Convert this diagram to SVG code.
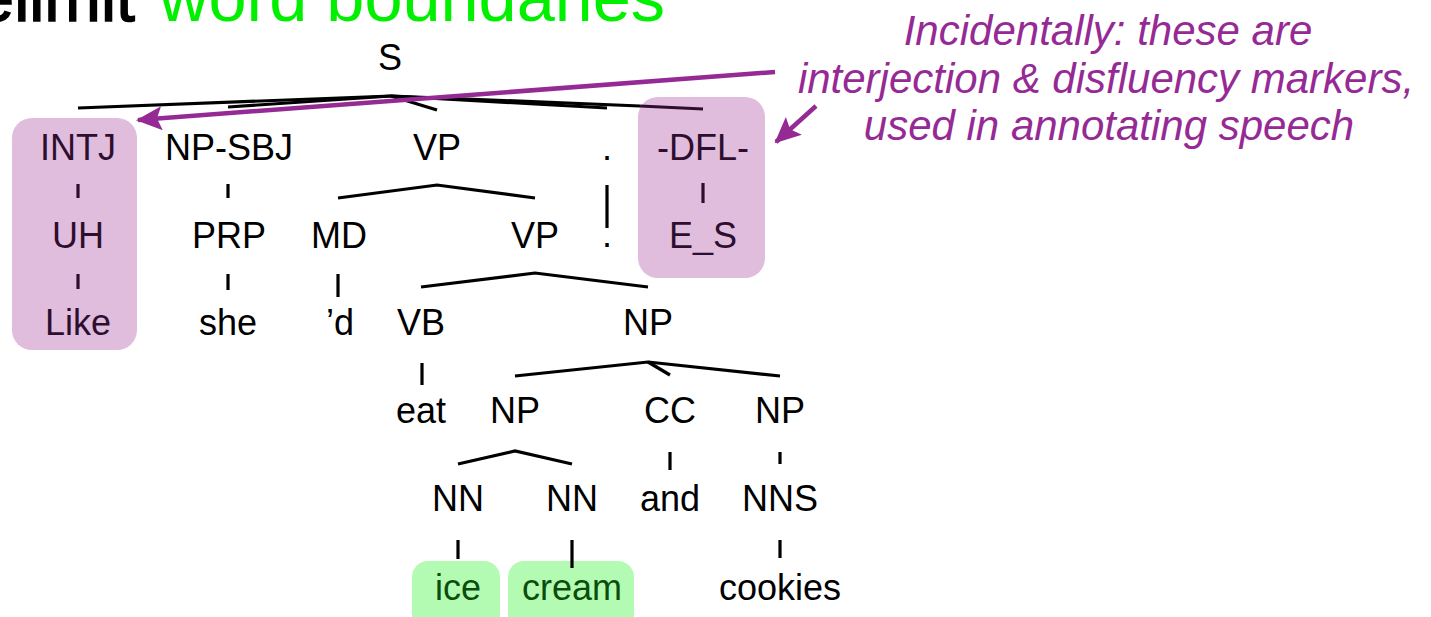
<svg xmlns="http://www.w3.org/2000/svg" width="1431" height="617" viewBox="0 0 1431 617">
  <style>
    .lbl { font-family: "Liberation Sans", Arial, sans-serif; font-size: 36px; fill: #000; text-anchor: middle; }
    .in-pink { fill: #2e0e2e; }
    .in-green { fill: #0b4d0b; }
    .edge { stroke: #000; stroke-width: 3.2; fill: none; stroke-linecap: butt; }
    .edge-pink { stroke: #2e0e2e; }
    .note { font-family: "Liberation Sans", Arial, sans-serif; font-size: 42px; font-style: italic; fill: #952a95; text-anchor: middle; }
    .pointer { stroke: #952a95; stroke-width: 4.5; fill: none; }
    .pink-box { fill: #e0bcdd; }
    .green-box { fill: #b3fbb3; }
  </style>
  <defs>
    <marker id="head" viewBox="0 0 26 24" refX="24" refY="12" markerWidth="26" markerHeight="24" markerUnits="userSpaceOnUse" orient="auto">
      <path d="M0,0 L26,12 L0,24 L5,12 Z" fill="#952a95"/>
    </marker>
  </defs>

  <rect width="1431" height="617" fill="#fff"/>

  <!-- heading, clipped at the top edge -->
  <g id="heading" font-family="Liberation Sans, Arial, sans-serif" font-size="68">
    <text x="135" y="21" text-anchor="end" fill="#000" stroke="#000" stroke-width="1.5">elimit</text>
    <text x="159" y="21" fill="#00f000" textLength="506" lengthAdjust="spacingAndGlyphs">word boundaries</text>
  </g>

  <!-- highlight boxes -->
  <g id="highlights">
    <rect class="pink-box" x="12" y="118" width="125" height="232" rx="20"/>
    <rect class="pink-box" x="638" y="97" width="127" height="181" rx="20"/>
    <rect class="green-box" x="412" y="561" width="88" height="70" rx="16"/>
    <rect class="green-box" x="508" y="561" width="126" height="70" rx="16"/>
  </g>

  <!-- tree edges -->
  <g id="connectors">
    <!-- S -->
    <path class="edge" d="M391,96 L78,108"/>
    <path class="edge" d="M391,96 L228,107"/>
    <path class="edge" d="M391,96 L437,110"/>
    <path class="edge" d="M391,96 L607,108"/>
    <path class="edge" d="M391,96 L640,106"/>
    <path class="edge edge-pink" d="M640,106 L703,109"/>
    <!-- VP -->
    <path class="edge" d="M338,198 L437,185 L535,198"/>
    <!-- VP (lower) -->
    <path class="edge" d="M421,287 L535,273 L648,287"/>
    <!-- NP coordination -->
    <path class="edge" d="M515,376 L648,362 L780,376"/>
    <path class="edge" d="M648,362 L670,375"/>
    <!-- NP compound -->
    <path class="edge" d="M458,464 L515,451 L572,464"/>
    <!-- unary edges -->
    <path class="edge edge-pink" d="M78,184 V198"/>
    <path class="edge edge-pink" d="M78,274 V289"/>
    <path class="edge" d="M228,184 V198"/>
    <path class="edge" d="M228,274 V290"/>
    <path class="edge" d="M338,274 V297"/>
    <path class="edge" d="M607,185 V228"/>
    <path class="edge edge-pink" d="M703,183 V203"/>
    <path class="edge" d="M422,363 V385"/>
    <path class="edge" d="M670,452 V470"/>
    <path class="edge" d="M780,452 V464"/>
    <path class="edge" d="M458,540 V559"/>
    <path class="edge" d="M572,540 V568"/>
    <path class="edge" d="M780,540 V558"/>
  </g>

  <!-- tree nodes -->
  <g id="n-S"><text class="lbl" x="390" y="70">S</text></g>
  <g id="n-INTJ"><text class="lbl in-pink" x="78" y="160">INTJ</text></g>
  <g id="n-UH"><text class="lbl in-pink" x="78" y="248">UH</text></g>
  <g id="n-Like"><text class="lbl in-pink" x="78" y="335">Like</text></g>
  <g id="n-NP-SBJ"><text class="lbl" x="229" y="160">NP-SBJ</text></g>
  <g id="n-PRP"><text class="lbl" x="229" y="248">PRP</text></g>
  <g id="n-she"><text class="lbl" x="228" y="335">she</text></g>
  <g id="n-VP"><text class="lbl" x="437" y="160">VP</text></g>
  <g id="n-MD"><text class="lbl" x="339" y="248">MD</text></g>
  <g id="n-d"><text class="lbl" x="340" y="335">’d</text></g>
  <g id="n-VP2"><text class="lbl" x="535" y="248">VP</text></g>
  <g id="n-VB"><text class="lbl" x="421" y="335">VB</text></g>
  <g id="n-eat"><text class="lbl" x="421" y="423">eat</text></g>
  <g id="n-NP"><text class="lbl" x="648" y="335">NP</text></g>
  <g id="n-NP-a"><text class="lbl" x="515" y="423">NP</text></g>
  <g id="n-CC"><text class="lbl" x="670" y="423">CC</text></g>
  <g id="n-NP-b"><text class="lbl" x="780" y="423">NP</text></g>
  <g id="n-NN1"><text class="lbl" x="458" y="511">NN</text></g>
  <g id="n-NN2"><text class="lbl" x="572" y="511">NN</text></g>
  <g id="n-and"><text class="lbl" x="670" y="511">and</text></g>
  <g id="n-NNS"><text class="lbl" x="780" y="511">NNS</text></g>
  <g id="n-ice"><text class="lbl in-green" x="458" y="600">ice</text></g>
  <g id="n-cream"><text class="lbl in-green" x="572" y="600">cream</text></g>
  <g id="n-cookies"><text class="lbl" x="780" y="600">cookies</text></g>
  <g id="n-punct"><text class="lbl" x="607" y="160">.</text></g>
  <g id="n-punct-tok"><text class="lbl" x="607" y="247">.</text></g>
  <g id="n-DFL"><text class="lbl in-pink" x="703" y="160">-DFL-</text></g>
  <g id="n-E_S"><text class="lbl in-pink" x="703" y="248">E_S</text></g>

  <!-- side note with pointers -->
  <g id="note">
    <text class="note" x="1108" y="45">Incidentally: these are</text>
    <text class="note" x="1106" y="93">interjection &amp; disfluency markers,</text>
    <text class="note" x="1109" y="140">used in annotating speech</text>
  </g>
  <g id="pointers">
    <path class="pointer" d="M775,72 L138,120" marker-end="url(#head)"/>
    <path class="pointer" d="M816,106 L776,142" marker-end="url(#head)"/>
  </g>
</svg>
